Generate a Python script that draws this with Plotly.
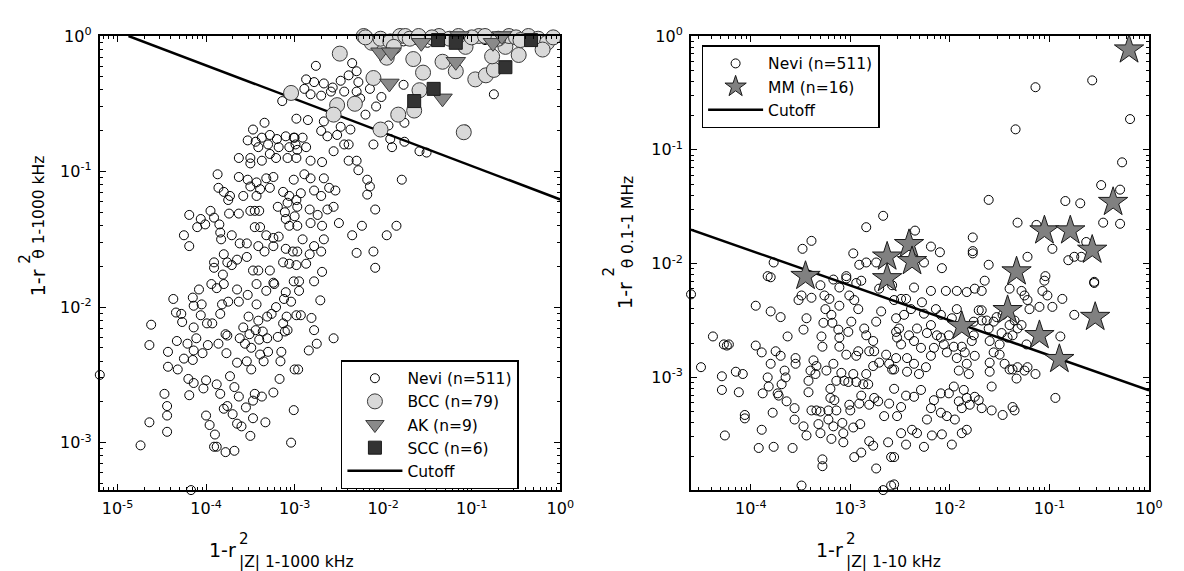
import plotly.graph_objects as go

# ---------------- data (log10 exponents of the plotted values) ----------------
# Left panel: x = 1-r^2 |Z| 1-1000 kHz, y = 1-r^2 theta 1-1000 kHz
left_nevi_exp = [
    (-3.14,-0.48),(-3.34,-0.64),(-3.47,-0.69),(-3.53,-0.77),(-3.44,-0.78),(-3.37,-0.75),(-3.28,-0.73),(-3.20,-0.76),
    (-3.10,-0.74),(-3.01,-0.75),(-3.41,-0.82),(-3.30,-0.80),(-3.18,-0.82),(-3.06,-0.82),(-2.99,-0.80),(-3.63,-0.90),
    (-3.50,-0.94),(-3.50,-0.90),(-3.28,-0.87),(-3.21,-0.90),(-3.08,-0.90),(-3.37,-0.92),(-3.87,-1.02),(-3.63,-1.04),
    (-3.53,-1.06),(-3.43,-1.08),(-3.32,-1.05),(-3.24,-1.04),(-3.50,-1.11),(-3.39,-1.13),(-3.28,-1.12),(-3.01,-1.06),
    (-3.86,-1.12),(-3.80,-1.15),(-3.73,-1.18),(-3.75,-1.21),(-3.58,-1.18),(-3.43,-1.18),(-3.13,-1.15),(-3.06,-1.18),
    (-4.19,-1.32),(-4.06,-1.35),(-3.95,-1.29),(-3.91,-1.34),(-3.85,-1.39),(-3.74,-1.31),(-3.63,-1.31),(-3.50,-1.29),
    (-3.45,-1.29),(-3.40,-1.29),(-3.19,-1.26),(-3.08,-1.23),(-2.98,-1.21),(-4.25,-1.47),(-4.10,-1.41),(-4.01,-1.39),
    (-3.84,-1.45),(-3.83,-1.50),(-3.71,-1.47),(-3.62,-1.53),(-3.54,-1.53),(-3.45,-1.41),(-3.39,-1.41),(-3.32,-1.47),
    (-3.24,-1.49),(-3.18,-1.48),(-3.11,-1.30),(-3.10,-1.35),(-3.06,-1.40),(-3.00,-1.33),(-4.19,-1.55),(-3.91,-1.67),
    (-3.80,-1.61),(-3.76,-1.67),(-3.71,-1.69),(-3.65,-1.65),(-3.54,-1.63),(-3.41,-1.55),(-3.34,-1.59),(-3.24,-1.55),
    (-3.10,-1.57),(-3.02,-1.59),(-3.91,-1.71),(-3.81,-1.76),(-3.47,-1.73),(-3.41,-1.73),(-3.28,-1.73),(-3.13,-1.67),
    (-3.06,-1.68),
    (-2.76,-0.22),(-2.35,-0.20),(-2.30,-0.26),(-2.87,-0.32),(-2.78,-0.34),(-2.67,-0.35),(-2.57,-0.38),(-2.48,-0.33),
    (-2.39,-0.29),(-2.28,-0.34),(-2.89,-0.39),(-2.82,-0.43),(-2.70,-0.44),(-2.59,-0.41),(-2.44,-0.41),(-2.30,-0.41),
    (-2.15,-0.39),(-2.26,-0.46),(-2.98,-0.61),(-2.85,-0.62),(-2.67,-0.63),(-2.48,-0.67),(-2.37,-0.69),(-2.20,-0.58),
    (-2.08,-0.52),(-2.02,-0.45),(-1.77,-0.36),(-1.94,-0.66),(-1.76,-0.64),(-3.00,-0.75),(-2.91,-0.75),(-2.97,-0.84),
    (-2.87,-0.82),(-2.70,-0.70),(-2.63,-0.74),(-2.52,-0.73),(-2.44,-0.80),(-2.39,-0.80),(-2.56,-0.85),(-2.11,-0.80),
    (-1.92,-0.76),(-1.90,-0.82),(-1.76,-0.78),(-1.59,-0.85),(-1.51,-0.86),(-2.98,-0.90),(-2.82,-0.92),(-2.69,-0.93),
    (-2.39,-0.92),(-2.30,-0.92),(-2.28,-0.99),(-2.18,-1.06),(-2.15,-1.11),(-2.18,-1.17),(-1.79,-1.06),(-2.89,-1.02),
    (-2.82,-1.05),(-2.67,-1.05),(-2.61,-1.12),(-2.54,-1.14),(-2.93,-1.16),(-2.78,-1.14),(-2.70,-1.18),(-2.97,-1.26),
    (-2.83,-1.28),(-2.74,-1.32),(-2.63,-1.28),(-2.56,-1.26),(-2.50,-1.38),(-2.24,-1.40),(-2.09,-1.28),(-1.85,-1.40),
    (-2.97,-1.40),(-2.82,-1.38),(-2.69,-1.40),(-1.96,-1.47),(-2.35,-1.47),(-2.30,-1.60),(-2.11,-1.59),(-2.09,-1.71),
    (-2.91,-1.50),(-2.78,-1.55),(-2.67,-1.50),(-2.97,-1.59),(-2.83,-1.61),(-2.70,-1.59),(-2.98,-1.69),(-2.87,-1.68),
    (-2.69,-1.74),(-1.07,-0.69),(-0.75,-0.43),
    (-1.85,-0.02),(-1.77,-0.04),(-1.70,-0.02),(-1.62,-0.03),(-1.50,-0.05),(-1.30,-0.03),(-1.00,-0.02),(-0.85,-0.03),
    (-5.20,-2.50),(-4.74,-3.02),(-4.64,-2.28),(-4.62,-2.13),(-4.64,-2.85),(-4.47,-2.64),(-4.44,-2.73),(-4.44,-2.80),
    (-4.44,-2.92),(-4.43,-2.33),(-4.43,-2.44),(-4.37,-1.94),(-4.34,-2.04),(-4.28,-2.05),(-4.27,-2.11),(-4.32,-2.46),
    (-4.33,-2.25),(-4.25,-2.38),(-4.21,-2.27),(-4.20,-2.53),(-4.19,-2.65),(-4.17,-3.35),(-4.15,-1.93),(-4.14,-1.99),
    (-4.14,-2.15),(-4.14,-2.56),(-4.15,-2.39),(-4.14,-2.32),(-4.11,-2.23),(-4.08,-1.87),(-4.06,-2.06),(-4.05,-1.98),
    (-4.04,-2.34),(-4.03,-2.60),(-4.00,-2.54),(-4.00,-2.80),(-3.98,-2.28),(-3.96,-2.87),(-3.94,-1.83),(-3.99,-2.12),
    (-3.93,-2.12),(-3.90,-2.94),(-3.91,-3.03),(-3.88,-3.03),(-3.88,-1.86),(-3.88,-2.57),(-3.86,-2.27),(-3.84,-2.64),
    (-3.84,-2.05),(-3.82,-1.98),(-3.80,-1.83),(-3.80,-2.75),(-3.78,-3.07),(-3.78,-2.20),(-3.77,-2.34),(-3.76,-2.73),
    (-3.76,-2.21),(-3.75,-1.96),(-3.73,-2.51),(-3.70,-2.79),(-3.68,-2.59),(-3.68,-3.06),(-3.65,-2.41),(-3.65,-2.86),
    (-3.63,-2.66),(-3.63,-1.96),(-3.62,-2.23),(-3.60,-2.88),(-3.58,-2.15),(-3.56,-2.27),(-3.55,-2.74),(-3.54,-2.40),
    (-3.53,-1.91),(-3.52,-2.07),(-3.51,-2.20),(-3.50,-2.95),(-3.49,-2.30),(-3.49,-2.46),(-3.47,-2.69),(-3.47,-2.82),
    (-3.45,-2.64),(-3.43,-1.98),(-3.44,-2.17),(-3.41,-2.10),(-3.40,-2.24),(-3.39,-2.35),(-3.37,-2.66),(-3.36,-2.18),
    (-3.35,-2.40),(-3.33,-2.85),(-3.32,-1.88),(-3.31,-2.23),(-3.31,-2.07),(-3.30,-2.33),(-3.26,-2.05),(-3.24,-2.63),
    (-3.23,-1.83),(-3.21,-2.00),(-3.19,-2.22),(-3.17,-2.53),(-3.16,-2.40),(-3.15,-2.33),(-3.13,-2.12),(-3.12,-1.94),
    (-3.11,-2.18),(-3.10,-1.89),(-3.09,-2.07),(-3.08,-2.17),(-3.00,-2.46),(-3.01,-1.81),(-3.24,-1.82),(-3.43,-1.83),
    (-3.65,-1.87),
    (-2.95,-1.81),(-2.78,-1.81),(-2.95,-1.88),(-2.71,-1.95),(-3.04,-1.96),(-2.98,-2.06),(-2.93,-2.06),(-2.81,-2.08),
    (-2.78,-2.17),(-2.75,-2.27),(-2.56,-2.23),(-2.84,-2.32),(-2.96,-2.46),(-3.01,-2.76),(-3.04,-3.00),
]
left_bcc_exp = [
    (-3.04,-0.42),(-2.49,-0.13),(-2.22,0.0),(-2.13,-0.05),(-2.03,-0.02),(-1.92,-0.04),(-1.96,-0.16),(-2.11,-0.31),
    (-1.81,0.0),(-1.66,-0.17),(-1.55,-0.27),(-1.59,-0.40),(-1.65,-0.55),(-1.83,-0.58),(-2.03,-0.69),(-2.52,-0.51),
    (-2.56,-0.58),(-2.32,-0.50),(-1.33,-0.19),(-1.18,-0.26),(-0.96,-0.32),(-0.84,-0.29),(-0.75,-0.25),(-0.77,-0.15),
    (-0.62,-0.08),(-0.47,-0.14),(-0.36,0.0),(-0.58,0.0),(-0.92,0.0),(-1.07,-0.08),(-1.37,0.0),(-1.09,-0.71),
    (-1.88,-0.08),(-2.20,-0.01),(-1.75,0.0),(-1.70,-0.02),(-1.60,0.0),(-1.45,-0.01),(-1.25,-0.02),(-1.15,0.0),
    (-1.00,-0.01),(-0.85,0.0),(-0.70,-0.02),(-0.50,-0.01),(-0.45,-0.03),(-0.25,-0.02),(-0.15,-0.05),(-0.08,-0.01),
    (-0.20,-0.10),
]
left_ak_exp = [(-2.03,-0.12),(-1.91,-0.12),(-1.93,-0.35),(-1.57,-0.05),(-1.33,-0.46),(-1.18,-0.19),
               (-1.14,0.0),(-0.76,-0.05),(-0.66,0.0)]
left_scc_exp = [(-1.65,-0.48),(-1.43,-0.39),(-1.38,-0.03),(-1.18,-0.05),(-0.62,-0.23),(-0.33,-0.03)]
left_cutoff_x = [1.33e-5, 1.0]
left_cutoff_y = [1.0, 0.0622]

# Right panel: x = 1-r^2 |Z| 1-10 kHz, y = 1-r^2 theta 0.1-1 MHz
right_nevi_exp = [
    (-3.77,-1.99),(-3.83,-2.11),(-3.80,-2.12),(-3.48,-1.87),(-3.39,-1.80),(-2.84,-1.68),(-2.67,-1.58),(-2.97,-1.91),
    (-2.84,-1.99),(-2.91,-2.01),(-2.74,-1.99),(-3.04,-2.11),(-2.89,-2.15),
    (-1.14,-0.45),(-0.57,-0.39),(-0.19,-0.73),(-1.34,-0.82),(-0.27,-1.11),(-0.48,-1.31),(-0.29,-1.35),(-1.61,-1.44),
    (-0.84,-1.45),(-0.69,-1.47),(-0.46,-1.64),(-0.29,-1.65),(-1.32,-1.64),(-1.13,-1.66),(-0.63,-1.81),(-2.35,-1.71),
    (-2.19,-1.85),(-2.10,-1.90),(-1.77,-1.77),(-1.77,-1.89),(-1.77,-1.91),(-2.26,-1.99),(-2.08,-2.04),(-1.61,-2.01),
    (-1.22,-1.94),(-0.97,-1.87),(-0.81,-1.97),(-0.75,-1.94),(-0.68,-1.94),(-1.04,-2.11),(-0.55,-2.16),
    (-4.60,-2.27),(-4.50,-2.91),(-4.38,-2.64),(-4.27,-2.71),(-4.24,-2.72),(-4.22,-2.71),(-4.29,-2.99),(-4.29,-3.11),
    (-4.26,-3.51),(-4.15,-2.95),(-4.12,-3.13),(-4.08,-2.97),(-4.06,-3.33),(-4.06,-3.36),(-3.95,-2.72),(-3.92,-3.62),
    (-3.89,-3.46),(-3.88,-3.14),(-3.89,-2.78),(-3.83,-3.00),(-3.82,-3.08),(-3.80,-2.88),(-3.78,-3.31),(-3.77,-3.61),
    (-3.75,-2.77),(-3.73,-3.14),(-3.72,-3.16),(-3.70,-2.81),(-3.69,-3.06),(-3.66,-2.94),(-3.65,-3.00),(-3.64,-3.21),
    (-3.63,-2.64),(-3.95,-2.37),(-3.80,-2.42),(-3.70,-2.47),(-3.58,-3.62),(-3.56,-3.27),(-3.56,-3.37),(-3.55,-2.83),
    (-3.55,-2.88),(-3.52,-2.32),(-3.49,-2.28),(-3.47,-2.58),(-3.47,-3.43),(-3.44,-2.48),(-3.44,-3.51),(-3.42,-3.03),
    (-3.42,-3.13),(-3.40,-2.94),(-3.39,-3.29),(-3.39,-2.30),(-3.37,-2.85),(-3.35,-2.97),(-3.34,-2.90),(-3.34,-3.29),
    (-3.32,-3.41),(-3.30,-3.30),(-3.30,-3.49),(-3.29,-2.64),(-3.28,-2.73),(-3.28,-3.72),(-3.28,-3.78),(-3.27,-2.52),
    (-3.26,-2.28),(-3.25,-2.40),(-3.24,-2.94),(-3.22,-3.29),(-3.22,-3.37),(-3.21,-2.31),(-3.20,-3.10),(-3.20,-3.18),
    (-3.19,-2.45),(-3.19,-3.54),(-3.18,-2.52),(-3.17,-2.88),(-3.17,-3.43),(-3.16,-3.20),(-3.14,-3.29),(-3.14,-3.03),
    (-3.12,-2.58),(-3.11,-2.21),(-3.11,-2.37),(-3.11,-2.65),(-3.11,-2.73),(-3.09,-2.96),(-3.08,-3.40),(-3.07,-3.57),
    (-3.07,-3.49),(-3.06,-3.03),(-3.04,-2.13),(-3.04,-2.80),(-3.02,-2.60),(-3.02,-3.04),(-3.01,-2.28),(-3.01,-3.24),
    (-3.00,-3.29),(-2.99,-2.51),(-2.97,-2.97),(-2.97,-3.44),(-2.96,-2.32),(-2.94,-3.04),(-2.94,-2.17),(-2.94,-2.81),
    (-2.92,-2.40),(-2.91,-3.23),(-2.90,-3.41),(-2.89,-3.66),(-2.89,-3.16),(-2.87,-3.06),(-2.86,-2.57),(-2.84,-2.63),
    (-2.84,-2.97),(-2.82,-3.06),(-2.81,-2.77),(-2.81,-3.24),(-2.77,-2.68),(-2.76,-2.77),(-2.77,-2.90),(-2.77,-3.60),
    (-2.76,-3.18),(-2.74,-2.51),(-2.72,-3.21),(-2.71,-2.22),(-2.71,-2.87),(-2.69,-2.42),(-2.67,-3.99),(-2.66,-3.34),
    (-2.64,-2.80),(-2.62,-3.57),(-2.61,-2.88),(-2.61,-3.23),(-2.59,-3.70),(-2.58,-2.19),(-2.59,-3.95),(-2.58,-2.93),
    (-2.56,-3.10),(-2.54,-2.60),(-2.74,-3.80),(-2.81,-3.56),(-2.96,-3.70),(-3.30,-2.19),(-3.17,-2.14),(-3.49,-3.95),
    (-2.92,-2.77),
    (-2.36,-2.21),(-2.19,-2.24),(-2.04,-2.24),(-1.93,-2.24),(-1.83,-2.25),(-1.75,-2.22),(-1.68,-2.24),(-1.65,-2.15),
    (-1.40,-2.22),(-1.28,-2.24),(-1.25,-2.28),(-1.22,-2.32),(-1.07,-2.24),(-1.02,-2.28),(-0.97,-2.38),(-0.87,-2.31),
    (-1.10,-2.38),(-1.20,-2.40),(-1.05,-2.15),(-0.55,-2.17),(-0.75,-2.45),(-0.89,-2.64),(-0.94,-3.18),(-2.56,-2.32),
    (-2.49,-2.31),(-2.44,-2.31),(-2.46,-2.45),(-2.54,-2.48),(-2.51,-2.57),(-2.53,-2.65),(-2.39,-2.40),(-2.41,-2.63),
    (-2.28,-2.34),(-2.26,-2.44),(-2.14,-2.40),(-2.09,-2.45),(-2.19,-2.54),(-2.23,-2.61),(-2.13,-2.63),(-2.33,-2.57),
    (-2.36,-2.68),(-2.29,-2.74),(-2.49,-2.71),(-2.54,-2.83),(-2.56,-2.93),(-2.43,-2.83),(-2.43,-2.95),(-2.36,-2.88),
    (-2.31,-2.97),(-2.24,-2.91),(-2.19,-2.81),(-2.16,-2.74),(-2.09,-2.65),(-2.06,-2.71),(-2.03,-2.78),(-2.01,-2.63),
    (-1.98,-2.48),(-1.93,-2.40),(-1.96,-2.73),(-1.93,-2.83),(-1.88,-2.73),(-1.85,-2.78),(-1.83,-2.88),(-1.78,-2.68),
    (-1.76,-2.63),(-1.75,-2.81),(-1.81,-2.97),(-1.91,-2.94),(-1.76,-2.51),(-1.71,-2.41),(-1.68,-2.41),(-1.68,-2.50),
    (-1.61,-2.57),(-1.63,-2.50),(-1.56,-2.51),(-1.53,-2.47),(-1.60,-2.68),(-1.56,-2.78),(-1.50,-2.80),(-1.48,-2.61),
    (-1.50,-2.71),(-1.47,-2.45),(-1.40,-2.54),(-1.42,-2.65),(-1.37,-2.63),(-1.32,-2.57),(-1.35,-2.50),(-1.28,-2.54),
    (-1.23,-2.71),(-1.60,-2.87),(-1.60,-2.95),(-1.58,-3.08),(-1.45,-2.88),(-1.40,-2.93),(-1.37,-2.93),(-1.33,-3.01),
    (-1.32,-2.91),(-1.25,-2.94),(-1.22,-2.91),(-1.14,-2.97),(-2.09,-3.14),(-2.01,-3.14),(-1.96,-3.08),(-1.86,-3.11),
    (-1.83,-3.18),(-1.75,-3.17),(-1.71,-3.20),(-1.80,-3.24),(-1.88,-3.27),(-1.91,-3.21),(-1.95,-3.37),(-2.03,-3.34),
    (-2.09,-3.31),(-2.23,-3.37),(-2.19,-3.27),(-2.16,-3.20),(-2.29,-3.11),(-2.36,-3.17),(-2.44,-3.16),(-2.49,-3.26),
    (-2.53,-3.34),(-2.49,-3.49),(-2.38,-3.46),(-2.33,-3.49),(-2.44,-3.59),(-2.26,-3.61),(-2.18,-3.51),(-2.08,-3.50),
    (-1.98,-3.59),(-1.88,-3.49),(-1.83,-3.46),(-1.68,-3.27),(-1.58,-3.29),(-1.47,-3.33),(-1.37,-3.26),(-1.35,-3.29),
    (-2.56,-3.70),(-2.56,-3.94),
]
right_mm_exp = [(-3.45,-2.11),(-2.63,-1.94),(-2.63,-2.13),(-2.41,-1.83),(-2.38,-1.98),(-1.05,-1.71),(-0.79,-1.71),
                (-0.57,-1.88),(-0.36,-1.46),(-0.20,-0.12),(-1.33,-2.07),(-1.42,-2.41),(-1.88,-2.55),(-1.10,-2.63),
                (-0.90,-2.84),(-0.54,-2.47)]
right_cutoff_x = [2.51e-5, 1.0]
right_cutoff_y = [0.0199, 0.00077]

left_legend_names = ["Nevi (n=511)", "BCC (n=79)", "AK (n=9)", "SCC (n=6)", "Cutoff"]
right_legend_names = ["Nevi (n=511)", "MM (n=16)", "Cutoff"]


def unlog(pairs):
    return [10 ** a for a, _ in pairs], [10 ** b for _, b in pairs]


FONT = "DejaVu Sans"
fig = go.Figure()

NEVI_MARKER = dict(symbol="circle", size=9, color="rgba(0,0,0,0)", line=dict(color="black", width=1))

# ---- left panel ----
fig.add_trace(go.Scatter(x=left_cutoff_x, y=left_cutoff_y, mode="lines", name=left_legend_names[4],
                         line=dict(color="black", width=2.5), legendrank=5, xaxis="x", yaxis="y", legend="legend"))
x, y = unlog(left_nevi_exp)
fig.add_trace(go.Scatter(x=x, y=y, mode="markers", name=left_legend_names[0], legendrank=1, cliponaxis=False,
                         marker=NEVI_MARKER, xaxis="x", yaxis="y", legend="legend"))
x, y = unlog(left_bcc_exp)
fig.add_trace(go.Scatter(x=x, y=y, mode="markers", name=left_legend_names[1], legendrank=2, cliponaxis=False,
                         marker=dict(symbol="circle", size=15, color="#d9d9d9", line=dict(color="#3a3a3a", width=1)),
                         xaxis="x", yaxis="y", legend="legend"))
x, y = unlog(left_ak_exp)
fig.add_trace(go.Scatter(x=x, y=y, mode="markers", name=left_legend_names[2], legendrank=3, cliponaxis=False,
                         marker=dict(symbol="triangle-down", size=17, color="#8a8a8a", line=dict(color="#3a3a3a", width=1)),
                         xaxis="x", yaxis="y", legend="legend"))
x, y = unlog(left_scc_exp)
fig.add_trace(go.Scatter(x=x, y=y, mode="markers", name=left_legend_names[3], legendrank=4, cliponaxis=False,
                         marker=dict(symbol="square", size=13, color="#333333", line=dict(color="#1a1a1a", width=1)),
                         xaxis="x", yaxis="y", legend="legend"))

# ---- right panel ----
fig.add_trace(go.Scatter(x=right_cutoff_x, y=right_cutoff_y, mode="lines", name=right_legend_names[2],
                         line=dict(color="black", width=2.5), legendrank=3, xaxis="x2", yaxis="y2", legend="legend2"))
x, y = unlog(right_nevi_exp)
fig.add_trace(go.Scatter(x=x, y=y, mode="markers", name=right_legend_names[0], legendrank=1, cliponaxis=False,
                         marker=NEVI_MARKER, xaxis="x2", yaxis="y2", legend="legend2"))
x, y = unlog(right_mm_exp)
fig.add_trace(go.Scatter(x=x, y=y, mode="markers", name=right_legend_names[1], legendrank=2, cliponaxis=False,
                         marker=dict(symbol="star", size=22, color="#808080", line=dict(color="#1a1a1a", width=1)),
                         xaxis="x2", yaxis="y2", legend="legend2"))


def log_axis(dmin, dmax, domain, anchor):
    majors = [10.0 ** d for d in range(dmin, dmax + 1)]
    minors = [k * 10.0 ** d for d in range(dmin - 1, dmax) for k in range(2, 10)]
    return dict(
        type="log", domain=domain, anchor=anchor,
        tickmode="array", tickvals=majors,
        ticktext=["10<sup>%d</sup>" % d for d in range(dmin, dmax + 1)],
        ticks="inside", ticklen=6, tickwidth=1, tickcolor="black",
        minor=dict(tickmode="array", tickvals=minors, ticks="inside", ticklen=3, tickwidth=1,
                   tickcolor="black", showgrid=False),
        showline=True, linewidth=2, linecolor="black", mirror="allticks",
        showgrid=False, zeroline=False,
        tickfont=dict(family=FONT, size=16, color="black"),
        ticklabelstandoff=3,
    )


W, H = 1184, 571
ydom = [(H - 488.5) / H, (H - 25.5) / H]
xa = log_axis(-5, 0, [101 / W, 567 / W], "y"); xa["range"] = [-5.2, 0]
ya = log_axis(-3, 0, ydom, "x"); ya["range"] = [-3.35, 0]
xa2 = log_axis(-4, 0, [699.3 / W, 1162.7 / W], "y2"); xa2["range"] = [-4.6, 0]
ya2 = log_axis(-3, 0, ydom, "x2"); ya2["range"] = [-3.99, 0]

legend_common = dict(xanchor="left", yanchor="top", bgcolor="white", bordercolor="black", borderwidth=1.5,
                     font=dict(family=FONT, size=15.5, color="black"), itemwidth=55, tracegroupgap=0)


def ann(text, px, py, size, xanchor="center", angle=0):
    return dict(text=text, x=px / W, y=(H - py) / H, xref="paper", yref="paper", showarrow=False,
                xanchor=xanchor, yanchor="middle", textangle=angle,
                font=dict(family=FONT, size=size, color="black"))


annotations = [
    # bottom-left axis title: 1-r^2 with stacked subscript
    ann("1-r", 241, 550, 19, "right"), ann("2", 240, 538, 15, "left"), ann("|Z| 1-1000 kHz", 240, 562, 15.5, "left"),
    # bottom-right axis title
    ann("1-r", 855, 550, 19, "right"), ann("2", 854, 538, 15, "left"), ann("|Z| 1-10 kHz", 854, 562, 15.5, "left"),
    # left y title (rotated)
    ann("1-r", 38, 277, 19, "center", -90), ann("2", 25, 253, 15, "center", -90),
    ann("θ 1-1000 kHz", 40, 200, 15.5, "center", -90),
    # right y title (rotated)
    ann("1-r", 633, 290, 19, "center", -90), ann("2", 616, 266, 15, "center", -90),
    ann("θ 0.1-1 MHz", 635, 215, 15.5, "center", -90),
]

fig.update_layout(
    width=W, height=H, margin=dict(l=0, r=0, t=0, b=0),
    paper_bgcolor="white", plot_bgcolor="white",
    font=dict(family=FONT, color="black"),
    xaxis=xa, yaxis=ya, xaxis2=xa2, yaxis2=ya2,
    legend=dict(x=345 / W, y=(H - 356) / H, **legend_common),
    legend2=dict(x=710 / W, y=(H - 35) / H, **legend_common),
    annotations=annotations,
    showlegend=True,
)

fig.write_html("out.html")
